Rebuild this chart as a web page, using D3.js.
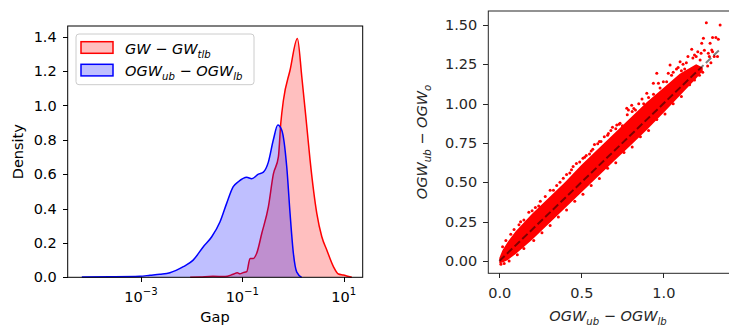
<!DOCTYPE html>
<html lang="en">
<head>
  <meta charset="UTF-8">
  <title>Gap densities and OGW scatter</title>
  <script src="https://d3js.org/d3.v7.min.js"></script>
  <style>
    body { margin: 0; background: #fff; }
    svg text { font-family: 'DejaVu Sans', sans-serif; }
    .axis path, .axis line { shape-rendering: crispEdges; }
  </style>
</head>
<body>
<svg width="729" height="328" id="chart"></svg>

<script>
  // left panel: KDE of the gaps (log x)
  const redGap = [0.00933, 0.0146, 0.0263, 0.0457, 0.0661, 0.0794, 0.0902, 0.1035, 0.122, 0.142, 0.165, 0.192,
    0.242, 0.326, 0.409, 0.514, 0.573, 0.646, 0.875, 1.219, 1.489, 1.871, 2.173, 2.944, 3.698, 4.634,
    6.266, 7.852, 9.863, 11.48, 14.45];
  const redDensity = [0, 0.002, 0.006, 0.004, 0.018, 0.026, 0.02, 0.027, 0.033, 0.11, 0.11, 0.14,
    0.256, 0.41, 0.60, 0.70, 0.896, 1.03, 1.206, 1.39, 1.167, 0.876, 0.68, 0.372, 0.236, 0.159,
    0.062, 0.019, 0.013, 0.008, 0];

  const blueGap = [6.8e-5, 2.45e-4, 9.5e-4, 1.51e-3, 2.37e-3, 3.72e-3, 6.84e-3, 0.0107, 0.017, 0.0249,
    0.0363, 0.049, 0.0661, 0.0832, 0.122, 0.153, 0.207, 0.26, 0.326, 0.409, 0.501, 0.6, 0.753,
    0.875, 1.016, 1.186, 1.479];
  const blueDensity = [0.002, 0.003, 0.006, 0.012, 0.018, 0.027, 0.062, 0.10, 0.178, 0.236,
    0.323, 0.43, 0.527, 0.556, 0.582, 0.574, 0.60, 0.612, 0.67, 0.80, 0.886, 0.856, 0.64,
    0.37, 0.14, 0.03, 0];

  const gapTicks = [1e-3, 1e-1, 1e1];
  const gapTickExp = ['\u22123', '\u22121', '1'];
  const densityTicks = [0, 0.2, 0.4, 0.6, 0.8, 1.0, 1.2, 1.4];

  // right panel: dense core of the scatter (lower / upper edge) plus loose points
  const bandX = [0, 0.02, 0.05, 0.1, 0.2, 0.3, 0.4, 0.5, 0.6, 0.7, 0.8, 0.9, 1.0, 1.1, 1.2, 1.24];
  const bandLo = [-0.015, -0.01, 0.005, 0.045, 0.135, 0.235, 0.335, 0.435, 0.535, 0.635, 0.735, 0.835, 0.94, 1.05, 1.16, 1.21];
  const bandHi = [0.02, 0.07, 0.12, 0.19, 0.30, 0.40, 0.50, 0.61, 0.71, 0.81, 0.91, 1.01, 1.10, 1.19, 1.25, 1.23];

  const scatterX = [0.01, 0.02, 0.04, 0.07, 0.12, 0.15, 0.18, 0.22, 0.25, 0.28, 0.31, 0.35, 0.39, 0.41, 0.44,
    0.47, 0.51, 0.53, 0.56, 0.58, 0.61, 0.64, 0.665, 0.69, 0.716, 0.736, 0.777, 0.787, 0.807, 0.82,
    0.85, 0.87, 0.899, 0.939, 0.96, 0.97, 1.0, 1.03, 1.041, 1.06, 1.08, 1.102, 1.12, 1.15, 1.173,
    1.19, 1.224, 1.234, 1.244, 1.262, 1.274, 1.285, 1.295, 1.30, 1.32, 1.335, 1.346, 1.21, 1.13,
    0.06, 0.15, 0.26, 0.36, 0.46, 0.56, 0.66, 0.76, 0.86, 0.96, 1.06, 1.16, 1.22, 1.27, 1.31,
    0.09, 0.13, 0.2, 0.24, 0.33, 0.37, 0.43, 0.45, 0.49, 0.52, 0.55, 0.57, 0.6, 0.62, 0.66, 0.68,
    0.71, 0.73, 0.75, 0.78, 0.81, 0.83, 0.88, 0.91, 0.94, 0.98, 1.02, 1.05, 1.09, 1.11, 1.14, 1.18,
    1.2, 1.23, 1.25, 1.28, 1.3,
    0.03, 0.11, 0.21, 0.31, 0.41, 0.51, 0.61, 0.71, 0.81, 0.91, 1.01, 1.11, 1.19, 1.24, 1.29, 1.33];
  const scatterY = [-0.02, 0.09, 0.13, 0.17, 0.23, 0.26, 0.31, 0.34, 0.38, 0.41, 0.45, 0.48, 0.526, 0.55, 0.58,
    0.62, 0.653, 0.67, 0.70, 0.74, 0.76, 0.79, 0.81, 0.85, 0.865, 0.875, 0.971, 0.96, 0.99, 0.97,
    1.0, 1.03, 1.066, 1.13, 1.193, 1.13, 1.14, 1.193, 1.246, 1.2, 1.22, 1.267, 1.25, 1.30, 1.346,
    1.31, 1.278, 1.384, 1.416, 1.515, 1.32, 1.384, 1.341, 1.42, 1.42, 1.41, 1.50, 1.33, 1.22,
    0.0, 0.08, 0.18, 0.28, 0.38, 0.48, 0.59, 0.69, 0.79, 0.9, 1.0, 1.12, 1.18, 1.24, 1.30,
    0.2, 0.25, 0.32, 0.35, 0.45, 0.50, 0.56, 0.60, 0.63, 0.66, 0.68, 0.71, 0.745, 0.76, 0.80, 0.83,
    0.84, 0.87, 0.86, 0.93, 0.95, 0.96, 1.0, 1.04, 1.06, 1.10, 1.14, 1.18, 1.23, 1.21, 1.26, 1.29,
    1.3, 1.32, 1.34, 1.3, 1.33,
    -0.015, 0.04, 0.13, 0.225, 0.325, 0.425, 0.525, 0.625, 0.725, 0.83, 0.935, 1.045, 1.15, 1.2, 1.26, 1.3];

  const refLine = [0, 1.34];
  const ogwTicksX = [0, 0.5, 1.0];
  const ogwTicksY = [0, 0.25, 0.5, 0.75, 1.0, 1.25, 1.5];

  const svg = d3.select('#chart');
  const FS = 14.5;

  function mathText(sel, parts, fs) {
    let shift = 0;
    parts.forEach(p => {
      const target = p.sub ? fs * 0.3 : p.sup ? -fs * 0.45 : 0;
      const ts = sel.append('tspan').attr('dy', target - shift).text(p.t);
      shift = target;
      if (p.it) ts.attr('font-style', 'italic');
      if (p.sub || p.sup) ts.attr('font-size', fs * 0.7);
    });
  }

  // ---------- left panel ----------
  const xL = d3.scaleLog().domain([3.58e-5, 23.7]).range([67.7, 362.7]);
  const yL = d3.scaleLinear().domain([0, 1.462]).range([277.3, 26]);

  const left = svg.append('g');

  const area = (gx, dy) => d3.area()
    .x((d, i) => xL(gx[i]))
    .y0(yL(0))
    .y1((d, i) => yL(dy[i]))
    .curve(d3.curveMonotoneX);
  const line = (gx, dy) => d3.line()
    .x((d, i) => xL(gx[i]))
    .y((d, i) => yL(dy[i]))
    .curve(d3.curveMonotoneX);

  left.append('path').attr('d', area(redGap, redDensity)(redGap))
    .attr('fill', 'rgba(255,0,0,0.25)');
  left.append('path').attr('d', line(redGap, redDensity)(redGap))
    .attr('fill', 'none').attr('stroke', '#ff0000').attr('stroke-width', 1.5);
  left.append('path').attr('d', area(blueGap, blueDensity)(blueGap))
    .attr('fill', 'rgba(0,0,255,0.25)');
  left.append('path').attr('d', line(blueGap, blueDensity)(blueGap))
    .attr('fill', 'none').attr('stroke', '#0000ff').attr('stroke-width', 1.5);

  left.append('rect')
    .attr('x', 67.7).attr('y', 26).attr('width', 295).attr('height', 251.3)
    .attr('fill', 'none').attr('stroke', '#000').attr('stroke-width', 1);

  const axXL = left.append('g').attr('class', 'axis')
    .attr('transform', 'translate(0,277.3)')
    .call(d3.axisBottom(xL).tickValues(gapTicks).tickSize(5).tickFormat(''));
  axXL.select('.domain').remove();
  gapTicks.forEach((t, i) => {
    const tx = left.append('text').attr('x', xL(t)).attr('y', 301.5)
      .attr('text-anchor', 'middle').attr('font-size', FS).attr('fill', '#000');
    mathText(tx, [{ t: '10' }, { t: gapTickExp[i], sup: true }], FS);
  });

  const axYL = left.append('g').attr('class', 'axis')
    .attr('transform', 'translate(67.7,0)')
    .call(d3.axisLeft(yL).tickValues(densityTicks).tickSize(5).tickPadding(6).tickFormat(d3.format('.1f')));
  axYL.select('.domain').remove();
  axYL.selectAll('text').attr('font-size', FS).attr('fill', '#000')
    .attr('font-family', 'DejaVu Sans');

  left.append('text').attr('x', 215).attr('y', 322)
    .attr('text-anchor', 'middle').attr('font-size', FS).text('Gap');
  left.append('text').attr('transform', 'translate(22.5,151.7) rotate(-90)')
    .attr('text-anchor', 'middle').attr('font-size', FS).text('Density');

  // legend
  const leg = left.append('g');
  leg.append('rect').attr('x', 76).attr('y', 34).attr('width', 178).attr('height', 50.7)
    .attr('rx', 3).attr('fill', 'rgba(255,255,255,0.8)').attr('stroke', '#cccccc');
  const legItems = [
    { fill: 'rgba(255,0,0,0.25)', stroke: '#ff0000',
      parts: [{ t: 'GW', it: true }, { t: ' \u2212 ' }, { t: 'GW', it: true }, { t: 'tlb', it: true, sub: true }] },
    { fill: 'rgba(0,0,255,0.25)', stroke: '#0000ff',
      parts: [{ t: 'OGW', it: true }, { t: 'ub', it: true, sub: true }, { t: ' \u2212 ' }, { t: 'OGW', it: true }, { t: 'lb', it: true, sub: true }] }
  ];
  legItems.forEach((d, i) => {
    const y = 41.7 + i * 22.6;
    leg.append('rect').attr('x', 81).attr('y', y).attr('width', 32).attr('height', 11.6)
      .attr('fill', d.fill).attr('stroke', d.stroke).attr('stroke-width', 1.5);
    const tx = leg.append('text').attr('x', 125).attr('y', y + 11.8).attr('font-size', FS);
    mathText(tx, d.parts, FS);
  });

  // ---------- right panel ----------
  const xR = d3.scaleLinear().domain([-0.067, 1.394]).range([488.3, 728]);
  const yR = d3.scaleLinear().domain([-0.078, 1.589]).range([273.3, 11]);
  const ink = '#262626';

  svg.append('clipPath').attr('id', 'clipR')
    .append('rect').attr('x', 488.3).attr('y', 11).attr('width', 245).attr('height', 262.3);

  const right = svg.append('g');
  const plot = right.append('g').attr('clip-path', 'url(#clipR)');

  plot.append('path')
    .attr('d', d3.area()
      .x((d, i) => xR(bandX[i]))
      .y0((d, i) => yR(bandLo[i]))
      .y1((d, i) => yR(bandHi[i]))
      .curve(d3.curveLinear)(bandX))
    .attr('fill', '#ff0000');

  plot.selectAll('circle').data(scatterX).enter().append('circle')
    .attr('cx', d => xR(d))
    .attr('cy', (d, i) => yR(scatterY[i]))
    .attr('r', 1.5)
    .attr('fill', '#ff0000');

  plot.append('line')
    .attr('x1', xR(refLine[0])).attr('y1', yR(refLine[0]))
    .attr('x2', xR(refLine[1])).attr('y2', yR(refLine[1]))
    .attr('stroke', '#000').attr('stroke-opacity', 0.5)
    .attr('stroke-width', 2).attr('stroke-dasharray', '7.4,3.2');

  right.append('rect')
    .attr('x', 488.3).attr('y', 11).attr('width', 245).attr('height', 262.3)
    .attr('fill', 'none').attr('stroke', ink).attr('stroke-width', 1);

  const axXR = right.append('g').attr('class', 'axis')
    .attr('transform', 'translate(0,273.3)')
    .call(d3.axisBottom(xR).tickValues(ogwTicksX).tickSize(5).tickPadding(6).tickFormat(d3.format('.1f')));
  axXR.select('.domain').remove();
  axXR.selectAll('line').attr('stroke', ink);
  axXR.selectAll('text').attr('font-size', FS).attr('fill', ink)
    .attr('font-family', 'DejaVu Sans').attr('dy', null).attr('y', 24.4);

  const axYR = right.append('g').attr('class', 'axis')
    .attr('transform', 'translate(488.3,0)')
    .call(d3.axisLeft(yR).tickValues(ogwTicksY).tickSize(5).tickPadding(6).tickFormat(d3.format('.2f')));
  axYR.select('.domain').remove();
  axYR.selectAll('line').attr('stroke', ink);
  axYR.selectAll('text').attr('font-size', FS).attr('fill', ink)
    .attr('font-family', 'DejaVu Sans');

  const xlab = right.append('text').attr('x', 608).attr('y', 320.5)
    .attr('text-anchor', 'middle').attr('font-size', FS).attr('fill', ink);
  mathText(xlab, [{ t: 'OGW', it: true }, { t: 'ub', it: true, sub: true }, { t: ' \u2212 ' },
    { t: 'OGW', it: true }, { t: 'lb', it: true, sub: true }], FS);

  const ylab = right.append('text').attr('transform', 'translate(426.7,142) rotate(-90)')
    .attr('text-anchor', 'middle').attr('font-size', FS).attr('fill', ink);
  mathText(ylab, [{ t: 'OGW', it: true }, { t: 'ub', it: true, sub: true }, { t: ' \u2212 ' },
    { t: 'OGW', it: true }, { t: 'o', it: true, sub: true }], FS);
</script>
</body>
</html>
